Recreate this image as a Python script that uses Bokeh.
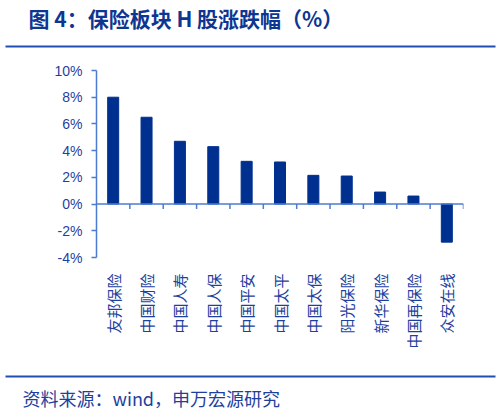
import math
from bokeh.plotting import figure
from bokeh.layouts import column
from bokeh.models import (Range1d, FixedTicker, PrintfTickFormatter, Label,
                          ColumnDataSource)
from bokeh.embed import file_html
from bokeh.resources import INLINE

categories = ["友邦保险", "中国财险", "中国人寿", "中国人保", "中国平安", "中国太平",
              "中国太保", "阳光保险", "新华保险", "中国再保险", "众安在线"]
changes = [8.0, 6.5, 4.7, 4.3, 3.2, 3.15, 2.15, 2.1, 0.9, 0.6, -2.85]
y_ticks = [-4, -2, 0, 2, 4, 6, 8, 10]

TITLE = "图 4：保险板块 H 股涨跌幅（%）"
SOURCE = "资料来源：wind，申万宏源研究"

BAR = "#00308F"
AXIS = "#4D7BD1"
TEXT = "#1E3F9E"
TITLE_C = "#0D3592"
RULE = "#1F4EB4"
CJK = "Noto Sans CJK SC"

W = 500
TOP_H, MAIN_H, BOT_H = 50, 320, 41
FL, FR, FT, FB = 96, 463, 20, 207  # frame edges inside the main figure

n = len(categories)
xs = [i + 0.5 for i in range(n)]


def strip(height):
    f = figure(width=W, height=height, output_backend="svg", toolbar_location=None,
               x_range=Range1d(0, W), y_range=Range1d(height, 0),
               x_axis_type=None, y_axis_type=None, min_border=0,
               frame_align=False)
    f.outline_line_color = None
    f.grid.visible = False
    f.border_fill_color = "white"
    return f


# header
top = strip(TOP_H)
top.add_layout(Label(x=28, y=17, text=TITLE, text_font=CJK, text_font_style="bold",
                     text_font_size="21px", text_color=TITLE_C, text_baseline="middle"))
top.segment(x0=[5], y0=[46], x1=[495], y1=[46], line_color=RULE, line_width=2)

# main chart
p = figure(width=W, height=MAIN_H, output_backend="svg", toolbar_location=None,
           x_range=Range1d(0, n), y_range=Range1d(y_ticks[0], y_ticks[-1]),
           min_border_left=FL, min_border_right=W - FR, min_border_top=FT,
           min_border_bottom=MAIN_H - FB, frame_align=False)
p.outline_line_color = None
p.grid.visible = False
p.background_fill_color = "white"
p.border_fill_color = "white"

src = ColumnDataSource(dict(x=xs, top=changes))
p.vbar(x="x", top="top", bottom=0, width=0.33, source=src, color=BAR)

bounds = list(range(1, n + 1))
p.segment(x0=[0], y0=[0], x1=[n], y1=[0], line_color=AXIS, line_width=1.5)
p.ray(x=bounds, y=[0] * len(bounds), length=5, length_units="screen",
      angle=-math.pi / 2, line_color=AXIS, line_width=1.5)

ya = p.yaxis[0]
ya.ticker = FixedTicker(ticks=y_ticks)
ya.formatter = PrintfTickFormatter(format="%d%%")
ya.axis_line_color = AXIS
ya.axis_line_width = 1.5
ya.major_tick_line_color = AXIS
ya.major_tick_line_width = 1.5
ya.major_tick_out = 5
ya.major_tick_in = 0
ya.minor_tick_line_color = None
ya.major_label_standoff = 9
ya.major_label_text_font = "Liberation Sans"
ya.major_label_text_font_size = "14px"
ya.major_label_text_color = TEXT

xa = p.xaxis[0]
xa.ticker = FixedTicker(ticks=xs)
xa.major_label_overrides = {x: c for x, c in zip(xs, categories)}
xa.major_label_orientation = math.pi / 2
xa.axis_line_color = None
xa.major_tick_line_color = None
xa.minor_tick_line_color = None
xa.major_label_standoff = 10
xa.major_label_text_font = CJK
xa.major_label_text_font_size = "15px"
xa.major_label_text_color = TEXT

# footer
bot = strip(BOT_H)
bot.segment(x0=[5], y0=[6], x1=[495], y1=[6], line_color=RULE, line_width=2)
bot.add_layout(Label(x=22, y=27, text=SOURCE, text_font=CJK, text_font_size="18px",
                     text_color=TEXT, text_baseline="middle"))

layout = column(top, p, bot, spacing=0)
open("out.html", "w").write(file_html(layout, INLINE))
